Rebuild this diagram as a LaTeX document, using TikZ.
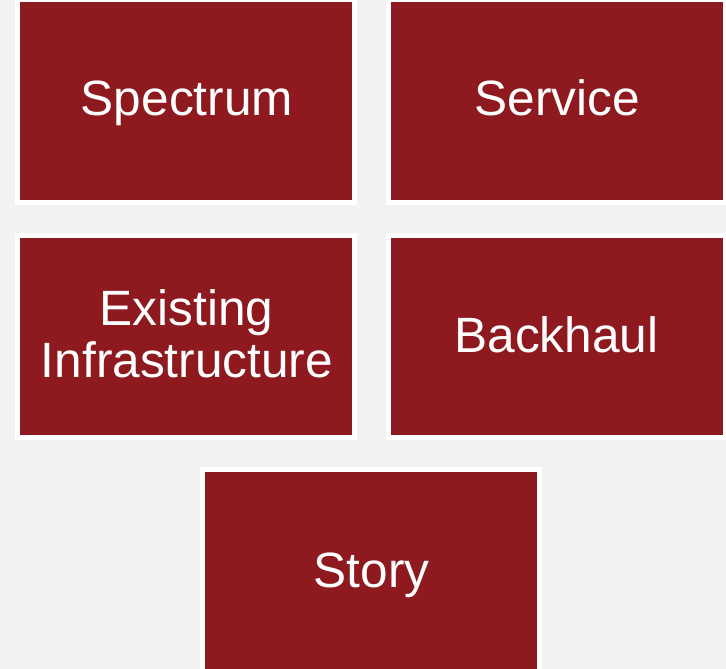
\documentclass[tikz,border=0pt]{standalone}
\usepackage{fontspec}
\setmainfont{Liberation Sans}
\definecolor{boxred}{HTML}{8E191E}
\definecolor{bg}{HTML}{F2F2F2}
\begin{document}
\begin{tikzpicture}[x=1pt,y=-1pt,
  tile/.style={rectangle, fill=boxred, draw=white, line width=5pt,
    minimum width=337pt, minimum height=202pt, inner sep=0pt, outer sep=0pt},
  label/.style={text=white, inner sep=0pt, anchor=base,
    font=\fontsize{49.6}{52}\selectfont}]
\fill[bg] (0,0) rectangle (726,669);
\useasboundingbox (0,0) rectangle (726,669);
\node[tile] (spectrum) at (186,101) {};
\node[tile] (service) at (556.5,101) {};
\node[tile] (infra) at (186,336.5) {};
\node[tile] (backhaul) at (556.5,336.5) {};
\node[tile, minimum height=210pt] (story) at (371,574) {};
\node[label] (spectrumtext) at (187,115) {Spectrum};
\node[label] (servicetext) at (557.5,115) {Service};
\node[label] (infratext1) at (186.5,325) {Existing};
\node[label] (infratext2) at (187,377) {Infrastructure};
\node[label] (backhaultext) at (556.5,352) {Backhaul};
\node[label] (storytext) at (371.5,587) {Story};
\end{tikzpicture}
\end{document}
